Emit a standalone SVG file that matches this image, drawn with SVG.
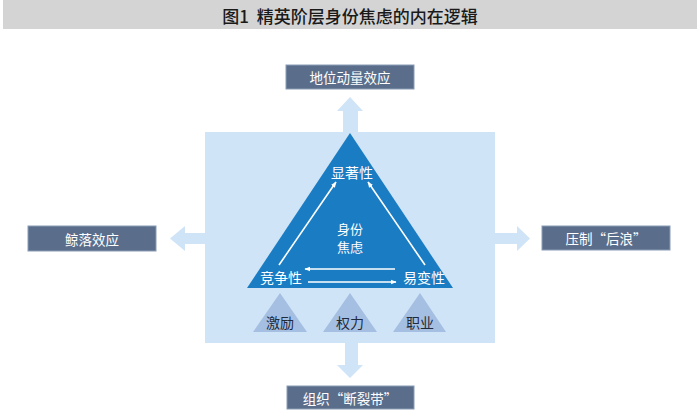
<svg xmlns="http://www.w3.org/2000/svg" width="700" height="417" viewBox="0 0 700 417">
<defs>
<style>
.box{fill:#5a6e8c;stroke:#8a9bb5;stroke-width:1}
.btxt{fill:#ffffff;font-family:"Noto Sans CJK SC","Liberation Sans",sans-serif;font-size:13.5px;text-anchor:middle;dominant-baseline:central}
.wtxt{fill:#ffffff;font-family:"Noto Sans CJK SC","Liberation Sans",sans-serif;font-size:14px;text-anchor:middle;dominant-baseline:central}
.ctxt{fill:#ffffff;font-family:"Noto Sans CJK SC","Liberation Sans",sans-serif;font-size:13px;text-anchor:middle;dominant-baseline:central}
.dtxt{fill:#1f2a3a;font-family:"Noto Sans CJK SC","Liberation Sans",sans-serif;font-size:14px;text-anchor:middle;dominant-baseline:central}
.fat{fill:#cfe4f6}
.small{fill:#a5bfe2}
.wl{stroke:#ffffff;stroke-width:1.6;fill:none;marker-end:url(#ah)}
</style>
<marker id="ah" viewBox="0 0 10 10" refX="9" refY="5" markerWidth="6" markerHeight="6" orient="auto" markerUnits="userSpaceOnUse">
<path d="M0,1 L10,5 L0,9 Z" fill="#ffffff"/>
</marker>
</defs>
<rect x="0" y="0" width="700" height="417" fill="#ffffff"/>
<rect x="3" y="0" width="694" height="29" fill="#d4d4d4"/>
<text x="350" y="15" font-family="Noto Sans CJK SC,Liberation Sans,sans-serif" font-size="17" font-weight="500" fill="#1a1a1a" text-anchor="middle" dominant-baseline="central" xml:space="preserve">图1  精英阶层身份焦虑的内在逻辑</text>

<g id="connectors">
<polygon class="fat" points="343,132 343,111 337,111 350,97 363,111 358,111 358,132"/>
<polygon class="fat" points="345,342 345,365 337,365 350,378 363,365 358,365 358,342"/>
<polygon class="fat" points="205,233 185,233 185,226 170,238.5 185,251 185,244 205,244"/>
<polygon class="fat" points="495,233 517,233 517,226 530,238.5 517,251 517,244 495,244"/>
</g>

<g id="panel">
<rect x="205" y="132" width="290" height="211" fill="#cfe4f6"/>
</g>

<g id="triangle">
<polygon points="350,133 247,288 453,288" fill="#1a7cc3"/>
<text class="wtxt" x="352" y="172">显著性</text>
<text class="ctxt" x="350" y="228">身份</text>
<text class="ctxt" x="350" y="246">焦虑</text>
<text class="wtxt" x="281" y="277">竞争性</text>
<text class="wtxt" x="424" y="277">易变性</text>
</g>

<g id="arrows">
<line class="wl" x1="279" y1="265" x2="336" y2="182"/>
<line class="wl" x1="425" y1="265" x2="368" y2="182"/>
<line class="wl" x1="395" y1="269" x2="305" y2="269"/>
<line class="wl" x1="308" y1="282" x2="396" y2="282"/>
</g>

<g id="jili">
<polygon class="small" points="280,293 253,332 307,332"/>
<text class="dtxt" x="280" y="322">激励</text>
</g>
<g id="quanli">
<polygon class="small" points="350,293 323,332 377,332"/>
<text class="dtxt" x="350" y="322">权力</text>
</g>
<g id="zhiye">
<polygon class="small" points="420,293 393,332 446,332"/>
<text class="dtxt" x="420" y="322">职业</text>
</g>

<g id="top">
<rect class="box" x="286" y="65" width="128" height="24"/>
<text class="btxt" x="350" y="77">地位动量效应</text>
</g>
<g id="left">
<rect class="box" x="28" y="226" width="128" height="25"/>
<text class="btxt" x="92" y="238.5">鲸落效应</text>
</g>
<g id="right">
<rect class="box" x="542" y="226" width="128" height="24"/>
<text class="btxt" x="606" y="238">压制“后浪”</text>
</g>
<g id="bottom">
<rect class="box" x="287" y="386" width="127" height="23"/>
<text class="btxt" x="350" y="397.5">组织“断裂带”</text>
</g>
</svg>
